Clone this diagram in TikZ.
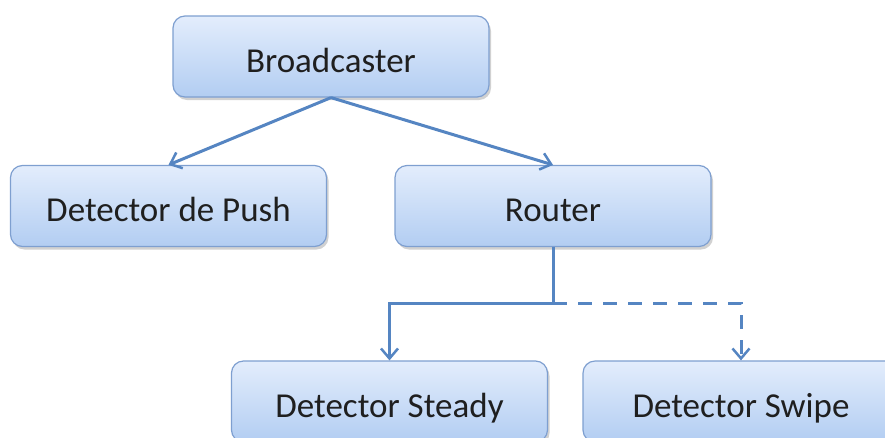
\documentclass[tikz,border=0pt]{standalone}
\usepackage{fontspec}
\setmainfont{Carlito}
\usetikzlibrary{arrows.meta,shadows}
\definecolor{boxtop}{HTML}{E3EDFC}
\definecolor{boxbot}{HTML}{B2CDF2}
\definecolor{boxline}{HTML}{7E9FD0}
\definecolor{arrowc}{HTML}{5585C2}
\begin{document}
\begin{tikzpicture}[x=1pt,y=-1pt,
  box/.style={draw=boxline, line width=1.2pt, rounded corners=12pt,
    top color=boxtop, bottom color=boxbot,
    minimum width=316pt, minimum height=81pt,
    text height=31pt, text depth=0pt,
    font=\fontsize{35}{40}\selectfont, text=black!88,
    drop shadow={shadow xshift=2pt, shadow yshift=-3pt, opacity=0.3, fill=black!60}},
  conn/.style={draw=arrowc, line width=3pt,
    -{Straight Barb[length=10pt,width=17pt,line width=2.5pt]}},
  dconn/.style={conn, dash pattern=on 14pt off 11pt}]
\useasboundingbox (0,0) rectangle (885,437);
\node[box] (b) at (331,56.5) {Broadcaster};
\node[box] (p) at (168.5,206) {Detector de Push};
\node[box] (r) at (553,206) {Router};
\node[box] (s) at (389.5,401.5) {Detector Steady};
\node[box] (w) at (741,401.5) {Detector Swipe};
\coordinate (j) at (553,303);
\draw[conn] (b.south) -- (p.north);
\draw[conn] (b.south) -- (r.north);
\draw[conn] (r.south) -- (j) -| (s.north);
\draw[dconn] (j) -| (w.north);
\end{tikzpicture}
\end{document}
